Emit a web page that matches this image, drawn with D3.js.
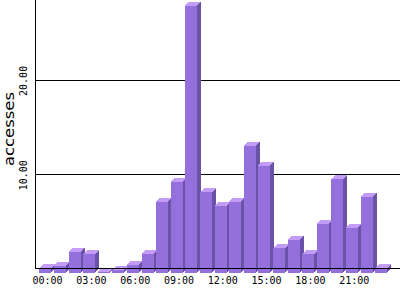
<!DOCTYPE html>
<html>
<head>
<meta charset="utf-8">
<script src="https://cdn.jsdelivr.net/npm/d3@7"></script>
<style>
  body { margin: 0; background: #fff; }
  svg { display: block; }
</style>
</head>
<body>
<div id="chart"></div>
<script>
// accesses per hour of day
var hours = d3.range(24).map(function (h) { return (h < 10 ? '0' : '') + h + ':00'; });
var accesses = [0.45, 0.7, 2.15, 1.95, 0.05, 0.25, 0.85, 1.95, 7.5, 9.6, 28.3, 8.5,
                7.1, 7.5, 13.4, 11.35, 2.6, 3.5, 1.95, 5.2, 9.9, 4.75, 8.05, 0.5];
var tickLabels = ['00:00', '03:00', '06:00', '09:00', '12:00', '15:00', '18:00', '21:00'];
var yTicks = [10, 20];

var width = 400, height = 300,
    depth = 4, barW = 12;

var svg = d3.select('#chart').append('svg')
    .attr('width', width)
    .attr('height', height);

var x = d3.scaleBand().domain(hours).range([37.3, 37.3 + 24 * 14.6]).padding(0);
var y = d3.scaleLinear().domain([0, 10]).range([268.7, 174.3]);

// gridlines (back plane)
svg.selectAll('.grid')
    .data(yTicks)
  .enter().append('line')
    .attr('x1', 35).attr('x2', width)
    .attr('y1', function (d) { return Math.round(y(d)) + 0.5; })
    .attr('y2', function (d) { return Math.round(y(d)) + 0.5; })
    .attr('stroke', '#000')
    .attr('stroke-width', 1);

var bars = svg.selectAll('.bar')
    .data(accesses)
  .enter().append('g')
    .attr('shape-rendering', 'crispEdges');

function fl(i) { return x(hours[i]) + 2; }          // front left
function ft(d) { return y(d) + depth; }            // front top
var fb = y(0) + depth;                              // front bottom

// side face
bars.append('path')
    .attr('fill', '#6a52a6')
    .attr('d', function (d, i) {
      var l = fl(i) + barW;
      return 'M' + l + ',' + ft(d) + 'L' + (l + depth) + ',' + (ft(d) - depth) +
             'L' + (l + depth) + ',' + (fb - depth) + 'L' + l + ',' + fb + 'Z';
    });

// top face
bars.append('path')
    .attr('fill', '#c29cf6')
    .attr('d', function (d, i) {
      var l = fl(i), t = ft(d);
      return 'M' + l + ',' + t + 'L' + (l + depth) + ',' + (t - depth) +
             'L' + (l + barW + depth) + ',' + (t - depth) + 'L' + (l + barW) + ',' + t + 'Z';
    });

// front face
bars.append('rect')
    .attr('fill', '#9370db')
    .attr('x', function (d, i) { return fl(i); })
    .attr('y', function (d) { return ft(d); })
    .attr('width', barW)
    .attr('height', function (d) { return fb - ft(d); });

// axes lines on top
svg.append('line')
    .attr('x1', 35.5).attr('x2', 35.5)
    .attr('y1', 0).attr('y2', 269)
    .attr('stroke', '#000');
svg.append('line')
    .attr('x1', 35).attr('x2', width)
    .attr('y1', 268.5).attr('y2', 268.5)
    .attr('stroke', '#000');

// x labels
svg.selectAll('.xlab')
    .data(tickLabels)
  .enter().append('text')
    .attr('x', function (d) { return x(d) + x.bandwidth() / 2 + 3; })
    .attr('y', 284)
    .attr('text-anchor', 'middle')
    .attr('font-family', 'DejaVu Sans Mono')
    .attr('font-size', 10)
    .text(function (d) { return d; });

// y tick labels
svg.selectAll('.ylab')
    .data(yTicks)
  .enter().append('text')
    .attr('transform', function (d) { return 'translate(26.5,' + (y(d) + 1) + ') rotate(-90)'; })
    .attr('text-anchor', 'middle')
    .attr('font-family', 'DejaVu Sans Mono')
    .attr('font-size', 10)
    .text(function (d) { return d3.format('.2f')(d); });

// y axis title
svg.append('text')
    .attr('transform', 'translate(14,129) rotate(-90)')
    .attr('text-anchor', 'middle')
    .attr('font-family', 'DejaVu Sans')
    .attr('font-size', 14)
    .attr('textLength', 74)
    .attr('lengthAdjust', 'spacingAndGlyphs')
    .text('accesses');
</script>
</body>
</html>
